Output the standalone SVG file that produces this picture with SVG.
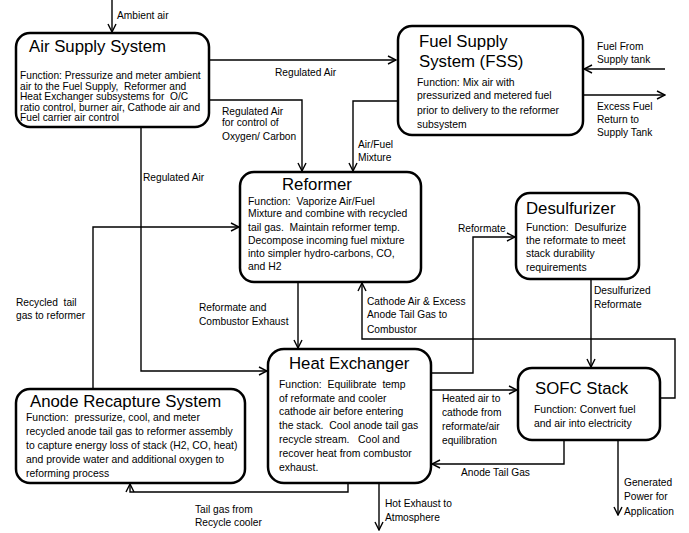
<svg xmlns="http://www.w3.org/2000/svg" width="689" height="533" viewBox="0 0 689 533">
  <defs>
    <marker id="arrow" markerUnits="userSpaceOnUse" markerWidth="10" markerHeight="10" refX="9" refY="5" orient="auto">
      <path d="M1,1 L9,5 L1,9" fill="none" stroke="#000" stroke-width="1.4"/>
    </marker>
    <style>
      text { white-space: pre; }
      .box { fill: #fff; stroke: #000; stroke-width: 2.5; }
      .title { font-family: "Liberation Sans", Arial, sans-serif; font-size: 16.8px; fill: #000; }
      .body { font-family: "Liberation Sans", Arial, sans-serif; font-size: 10.4px; fill: #000; }
      .lbl { font-family: "Liberation Sans", Arial, sans-serif; font-size: 10.2px; fill: #000; }
      .wire { fill: none; stroke: #000; stroke-width: 1.4; }
      .arr { marker-end: url(#arrow); }
    </style>
  </defs>
  <rect width="689" height="533" fill="#fff"/>

  <!-- connectors -->
  <g id="connectors">
    <path class="wire arr" d="M112,0 V32"/>
    <path class="wire arr" d="M209,60 H396"/>
    <path class="wire arr" d="M209,100 H302 V171"/>
    <path class="wire arr" d="M141,127 V371 H267"/>
    <path class="wire arr" d="M398,101 H353 V171"/>
    <path class="wire arr" d="M665,69 H584"/>
    <path class="wire arr" d="M583,95 H665"/>
    <path class="wire arr" d="M93,389 V227 H239"/>
    <path class="wire arr" d="M298,282 V348"/>
    <path class="wire arr" d="M660,398 H675 V339 H362 V283"/>
    <path class="wire arr" d="M431,373 H473 V237 H515"/>
    <path class="wire arr" d="M591,279 V367"/>
    <path class="wire arr" d="M431,390 H517"/>
    <path class="wire arr" d="M564,440 V464 H432"/>
    <path class="wire arr" d="M618,440 V515"/>
    <path class="wire arr" d="M379,483 V530"/>
    <path class="wire arr" d="M348,483 V492 H130 V484"/>

    <g class="lbl">
      <text x="117" y="18.5">Ambient air</text>
      <text x="275" y="75.5">Regulated Air</text>
      <text x="222" y="114.5">Regulated Air</text>
      <text x="222" y="125.5">for control of</text>
      <text x="222" y="140">Oxygen/ Carbon</text>
      <text x="143" y="181">Regulated Air</text>
      <text x="358" y="148">Air/Fuel</text>
      <text x="358" y="161">Mixture</text>
      <text x="597" y="50">Fuel From</text>
      <text x="597" y="63">Supply tank</text>
      <text x="597" y="110">Excess Fuel</text>
      <text x="597" y="122.5">Return to</text>
      <text x="597" y="136">Supply Tank</text>
      <text x="16" y="306">Recycled  tail</text>
      <text x="16" y="318.5">gas to reformer</text>
      <text x="199" y="311">Reformate and</text>
      <text x="199" y="325">Combustor Exhaust</text>
      <text x="367" y="305">Cathode Air &amp; Excess</text>
      <text x="367" y="318">Anode Tail Gas to</text>
      <text x="367" y="333">Combustor</text>
      <text x="458" y="232">Reformate</text>
      <text x="594" y="294">Desulfurized</text>
      <text x="594" y="308">Reformate</text>
      <text x="442" y="402">Heated air to</text>
      <text x="442" y="416">cathode from</text>
      <text x="442" y="430">reformate/air</text>
      <text x="442" y="444">equilibration</text>
      <text x="461" y="476">Anode Tail Gas</text>
      <text x="624" y="486">Generated</text>
      <text x="624" y="500">Power for</text>
      <text x="624" y="515">Application</text>
      <text x="385" y="507">Hot Exhaust to</text>
      <text x="385" y="521">Atmosphere</text>
      <text x="195" y="513">Tail gas from</text>
      <text x="195" y="526">Recycle cooler</text>
    </g>
  </g>

  <!-- nodes -->
  <g id="air-supply">
    <rect class="box" x="16" y="33" width="193" height="94" rx="14"/>
    <text class="title" x="29" y="52">Air Supply System</text>
    <g class="body" style="font-size:10.2px">
      <text x="20" y="78.5">Function: Pressurize and meter ambient</text>
      <text x="20" y="89.5">air to the Fuel Supply,  Reformer and</text>
      <text x="20" y="100">Heat Exchanger subsystems for  O/C</text>
      <text x="20" y="110.5">ratio control, burner air, Cathode air and</text>
      <text x="20" y="121">Fuel carrier air control</text>
    </g>
  </g>

  <g id="fuel-supply">
    <rect class="box" x="398" y="26" width="185" height="109" rx="14"/>
    <text class="title" x="419" y="47">Fuel Supply</text>
    <text class="title" x="419" y="67">System (FSS)</text>
    <g class="body">
      <text x="417" y="86">Function: Mix air with</text>
      <text x="417" y="99">pressurized and metered fuel</text>
      <text x="417" y="114">prior to delivery to the reformer</text>
      <text x="417" y="127.5">subsystem</text>
    </g>
  </g>

  <g id="reformer">
    <rect class="box" x="240" y="172" width="181" height="110" rx="14"/>
    <text class="title" x="282" y="190">Reformer</text>
    <g class="body">
      <text x="248" y="204.5">Function:  Vaporize Air/Fuel</text>
      <text x="248" y="216.5">Mixture and combine with recycled</text>
      <text x="248" y="230.5">tail gas.  Maintain reformer temp.</text>
      <text x="248" y="243.5">Decompose incoming fuel mixture</text>
      <text x="248" y="256.5">into simpler hydro-carbons, CO,</text>
      <text x="248" y="270">and H2</text>
    </g>
  </g>

  <g id="desulfurizer">
    <rect class="box" x="516" y="193" width="123" height="86" rx="14"/>
    <text class="title" x="526" y="214">Desulfurizer</text>
    <g class="body">
      <text x="526" y="230.5">Function:  Desulfurize</text>
      <text x="526" y="243.5">the reformate to meet</text>
      <text x="526" y="256.5">stack durability</text>
      <text x="526" y="270.5">requirements</text>
    </g>
  </g>

  <g id="heat-exchanger">
    <rect class="box" x="268" y="349" width="163" height="134" rx="16"/>
    <text class="title" x="289" y="369">Heat Exchanger</text>
    <g class="body">
      <text x="279" y="387.5">Function:  Equilibrate  temp</text>
      <text x="279" y="401.5">of reformate and cooler</text>
      <text x="279" y="414.5">cathode air before entering</text>
      <text x="279" y="428.5">the stack.  Cool anode tail gas</text>
      <text x="279" y="442.5">recycle stream.   Cool and</text>
      <text x="279" y="456.5">recover heat from combustor</text>
      <text x="279" y="470.5">exhaust.</text>
    </g>
  </g>

  <g id="sofc-stack">
    <rect class="box" x="518" y="368" width="142" height="72" rx="14"/>
    <text class="title" x="535" y="394">SOFC Stack</text>
    <g class="body">
      <text x="534" y="412.5">Function: Convert fuel</text>
      <text x="534" y="426.5">and air into electricity</text>
    </g>
  </g>

  <g id="anode-recapture">
    <rect class="box" x="16" y="389" width="229" height="94" rx="14"/>
    <text class="title" x="30" y="407">Anode Recapture System</text>
    <g class="body">
      <text x="26" y="420.5">Function:  pressurize, cool, and meter</text>
      <text x="26" y="434.5">recycled anode tail gas to reformer assembly</text>
      <text x="26" y="448.5">to capture energy loss of stack (H2, CO, heat)</text>
      <text x="26" y="462.5">and provide water and additional oxygen to</text>
      <text x="26" y="476.5">reforming process</text>
    </g>
  </g>
</svg>
